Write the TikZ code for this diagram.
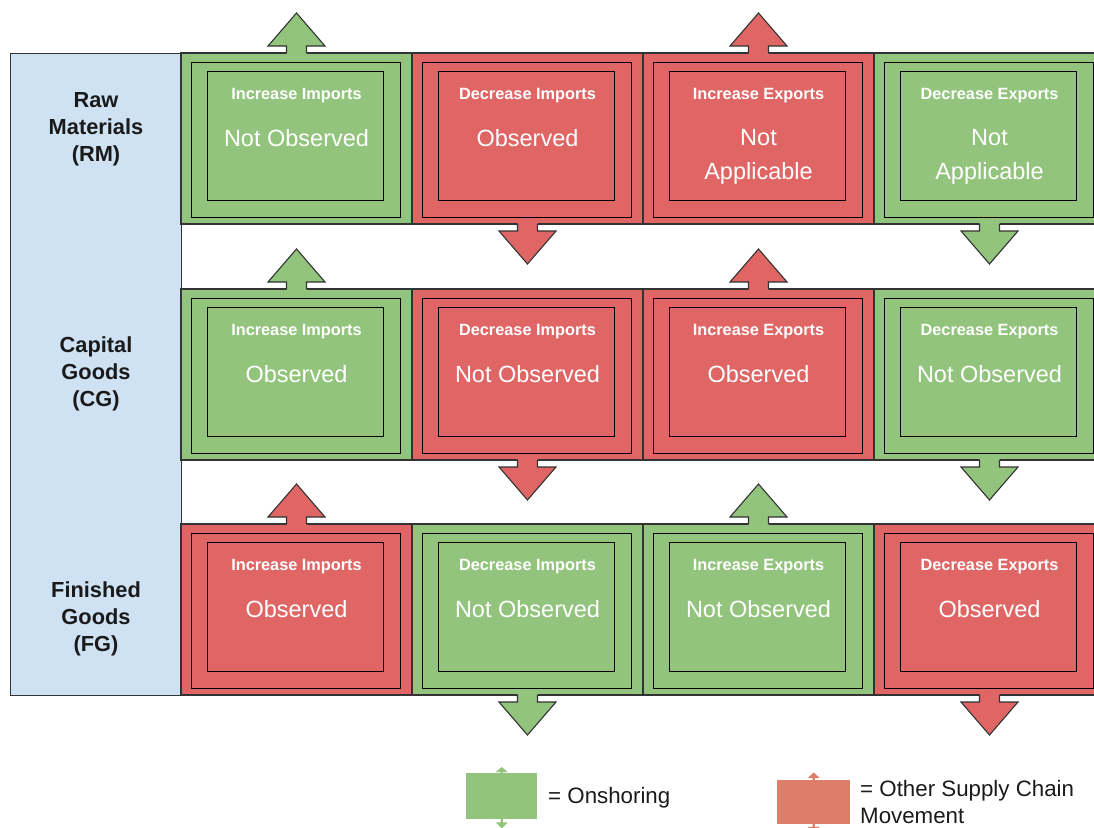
\documentclass[tikz,border=0pt]{standalone}
\usepackage{fontspec}
\setmainfont{Liberation Sans}
\usetikzlibrary{calc}
\definecolor{gcell}{HTML}{93C47D}
\definecolor{rcell}{HTML}{E06666}
\definecolor{lblue}{HTML}{CFE2F3}
\definecolor{lgreen}{HTML}{93C47D}
\definecolor{lred}{HTML}{DD7E6B}
\definecolor{edge}{HTML}{333333}
\definecolor{ink}{HTML}{1A1A1A}
\tikzset{
 cellbox/.style={draw=edge, line width=1.1pt, minimum width=231pt, minimum height=171pt, anchor=north west, inner sep=0pt, outer sep=0pt},
 framebox/.style={draw=black, line width=1pt, minimum width=209pt, minimum height=155pt, inner sep=0pt},
 innerbox/.style={draw=black, line width=1pt, minimum width=176pt, minimum height=129pt, inner sep=0pt},
 headtxt/.style={text=white, inner sep=0pt, font=\bfseries\fontsize{16.3}{19}\selectfont},
 maintxt/.style={text=white, inner sep=0pt, align=center, font=\fontsize{23.5}{34}\selectfont},
 arrline/.style={draw=edge, line width=1.1pt, line join=miter},
 cattxt/.style={text=ink, align=center, inner sep=0pt, font=\bfseries\fontsize{21.8}{27}\selectfont},
 legtxt/.style={text=ink, align=left, inner sep=0pt, font=\fontsize{22.3}{27}\selectfont},
}
\newcommand\Cell[7]{%
 \node[cellbox, fill=#4] (#1) at (#2,#3) {};
 \node[framebox] (#1f) at ($(#1.center)+(-1,1)$) {};
 \node[innerbox] (#1i) at ($(#1.center)+(-1.5,-3)$) {};
 \node[headtxt, anchor=base] (#1h) at ($(#1.north)+(0,46)$) {#5};
 \node[maintxt] (#1m) at ($(#1.north)+(0,{85+#7})$) {#6};
}
\newcommand\ArrUp[2]{%
 \fill[#2] (#1.north) ++(-10,1.2) -- ++(0,-8.2) -- ++(-18.5,0) -- ++(28.5,-33) -- ++(28.5,33) -- ++(-18.5,0) -- ++(0,8.2) -- cycle;
 \draw[arrline] (#1.north) ++(-10,0) -- ++(0,-7) -- ++(-18.5,0) -- ++(28.5,-33) -- ++(28.5,33) -- ++(-18.5,0) -- ++(0,7);
}
\newcommand\ArrDown[2]{%
 \fill[#2] (#1.south) ++(-10,-1.2) -- ++(0,8.2) -- ++(-18.5,0) -- ++(28.5,33) -- ++(28.5,-33) -- ++(-18.5,0) -- ++(0,-8.2) -- cycle;
 \draw[arrline] (#1.south) ++(-10,0) -- ++(0,7) -- ++(-18.5,0) -- ++(28.5,33) -- ++(28.5,-33) -- ++(-18.5,0) -- ++(0,-7);
}
\begin{document}
\begin{tikzpicture}[x=1pt,y=-1pt]
\useasboundingbox (0,0) rectangle (1094,827);
\clip (0,0) rectangle (1094,827);
% category column
\node[draw=edge, line width=1.1pt, fill=lblue, minimum width=171pt, minimum height=642pt, anchor=north west, inner sep=0pt] (cat) at (10,53) {};
\node[cattxt] (rm) at (96,129) {Raw\\Materials\\(RM)};
\node[cattxt] (cg) at (96,374) {Capital\\Goods\\(CG)};
\node[cattxt] (fg) at (96,619) {Finished\\Goods\\(FG)};
% row 1
\Cell{c11}{181}{53}{gcell}{Increase Imports}{Not Observed}{0}
\Cell{c12}{412}{53}{rcell}{Decrease Imports}{Observed}{0}
\Cell{c13}{643}{53}{rcell}{Increase Exports}{Not\\Applicable}{19}
\Cell{c14}{874}{53}{gcell}{Decrease Exports}{Not\\Applicable}{19}
% row 2
\Cell{c21}{181}{289}{gcell}{Increase Imports}{Observed}{0}
\Cell{c22}{412}{289}{rcell}{Decrease Imports}{Not Observed}{0}
\Cell{c23}{643}{289}{rcell}{Increase Exports}{Observed}{0}
\Cell{c24}{874}{289}{gcell}{Decrease Exports}{Not Observed}{0}
% row 3
\Cell{c31}{181}{524}{rcell}{Increase Imports}{Observed}{0}
\Cell{c32}{412}{524}{gcell}{Decrease Imports}{Not Observed}{0}
\Cell{c33}{643}{524}{gcell}{Increase Exports}{Not Observed}{0}
\Cell{c34}{874}{524}{rcell}{Decrease Exports}{Observed}{0}
% arrows
\ArrUp{c11}{gcell}
\ArrDown{c12}{rcell}
\ArrUp{c13}{rcell}
\ArrDown{c14}{gcell}
\ArrUp{c21}{gcell}
\ArrDown{c22}{rcell}
\ArrUp{c23}{rcell}
\ArrDown{c24}{gcell}
\ArrUp{c31}{rcell}
\ArrDown{c32}{gcell}
\ArrUp{c33}{gcell}
\ArrDown{c34}{rcell}
% legend
\node[fill=lgreen, minimum width=71pt, minimum height=46pt, anchor=north west, inner sep=0pt] (lg) at (466,773) {};
\fill[lgreen] (lg.north) ++(-1.2,0.5) -- ++(0,-1.5) -- ++(-4.8,0) -- ++(6,-5) -- ++(6,5) -- ++(-4.8,0) -- ++(0,1.5) -- cycle;
\fill[lgreen] (lg.south) ++(-1.2,-0.5) -- ++(0,3.5) -- ++(-4.8,0) -- ++(6,6) -- ++(6,-6) -- ++(-4.8,0) -- ++(0,-3.5) -- cycle;
\node[legtxt, anchor=west] (lgt) at (548,798) {= Onshoring};
\node[fill=lred, minimum width=73pt, minimum height=44pt, anchor=north west, inner sep=0pt] (lr) at (777,780) {};
\fill[lred] (lr.north) ++(-1.2,0.5) -- ++(0,-2.5) -- ++(-4.8,0) -- ++(6,-5.5) -- ++(6,5.5) -- ++(-4.8,0) -- ++(0,2.5) -- cycle;
\fill[lred] (lr.south) ++(-1.2,-0.5) -- ++(0,3) -- ++(-4.8,0) -- ++(6,6) -- ++(6,-6) -- ++(-4.8,0) -- ++(0,-3) -- cycle;
\node[legtxt, anchor=north west] (lrt) at (860,780) {= Other Supply Chain\\Movement};
\end{tikzpicture}
\end{document}
